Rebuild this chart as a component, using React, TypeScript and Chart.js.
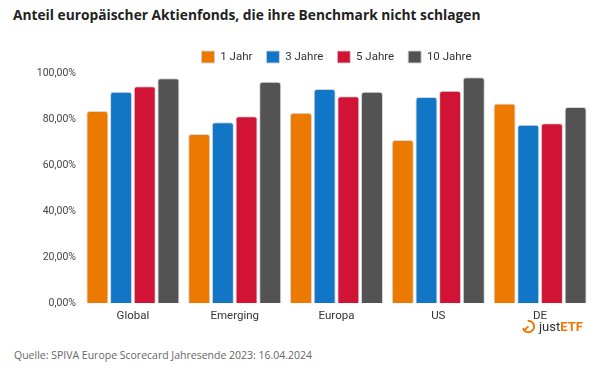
import React, { useEffect, useRef } from "react";
import { Chart, registerables } from "chart.js";

Chart.register(...registerables);

const categories = ["Global", "Emerging", "Europa", "US", "DE"];
const seriesNames = ["1 Jahr", "3 Jahre", "5 Jahre", "10 Jahre"];
const jahr1 = [83.5, 73.5, 82.7, 70.9, 86.7];
const jahre3 = [91.9, 78.6, 93.1, 89.6, 77.5];
const jahre5 = [94.2, 81.2, 89.9, 92.3, 78.2];
const jahre10 = [97.7, 96.2, 91.9, 98.1, 85.2];
const yTicks = [0, 20, 40, 60, 80, 100];
const colors = ["#EC7A00", "#1176C6", "#D11436", "#535353"];

const TICK_FONT = "Roboto, 'DejaVu Sans', sans-serif";

const legendToChartArea = {
  id: "legendToChartArea",
  afterLayout(chart: any) {
    const lg = chart.legend;
    if (lg && chart.chartArea) {
      lg.left = chart.chartArea.left;
      lg.right = chart.chartArea.right;
      lg.width = lg.right - lg.left;
    }
  },
};

export default function App() {
  const ref = useRef<HTMLCanvasElement>(null);
  useEffect(() => {
    if (!ref.current) return;
    const values = [jahr1, jahre3, jahre5, jahre10];
    const chart = new Chart(ref.current, {
      type: "bar",
      plugins: [legendToChartArea],
      data: {
        labels: categories,
        datasets: seriesNames.map((name, i) => ({
          label: name,
          data: values[i],
          backgroundColor: colors[i],
          borderColor: "rgba(210,210,210,0.9)",
          borderWidth: 1,
          borderRadius: 3,
          borderSkipped: "bottom",
          categoryPercentage: 0.93,
          barPercentage: 0.93,
        })),
      },
      options: {
        animation: false,
        responsive: false,
        maintainAspectRatio: false,
        layout: { padding: { left: 0, right: 14, top: 8, bottom: 0 } },
        plugins: {
          title: { display: false },
          tooltip: { enabled: false },
          legend: {
            display: true,
            position: "top",
            align: "center",
            labels: {
              boxWidth: 13,
              boxHeight: 12,
              padding: 14,
              color: "#333",
              font: { family: TICK_FONT, size: 11.5 },
            },
          },
        },
        scales: {
          x: {
            grid: { display: false, drawTicks: false },
            border: { display: false },
            ticks: {
              color: "#333",
              font: { family: TICK_FONT, size: 11.5 },
              padding: 6,
            },
          },
          y: {
            min: 0,
            max: 100,
            afterFit: (scale: any) => {
              scale.width = 82;
            },
            afterBuildTicks: (scale: any) => {
              scale.ticks = yTicks.map((v) => ({ value: v }));
            },
            grid: { display: false, drawTicks: false },
            border: { display: false },
            ticks: {
              color: "#444",
              font: { family: TICK_FONT, size: 10.5 },
              padding: 6,
              callback: (v: any) =>
                Number(v).toFixed(2).replace(".", ",") + "%",
            },
          },
        },
      },
    });
    return () => chart.destroy();
  }, []);

  return (
    <div
      style={{
        position: "fixed",
        left: 0,
        top: 0,
        width: 605,
        height: 370,
        background: "#fff",
        overflow: "hidden",
      }}
    >
      <div
        style={{
          position: "absolute",
          left: 13,
          top: 5,
          fontFamily: "'Open Sans', sans-serif",
          fontWeight: 700,
          fontSize: 13.75,
          color: "#222",
          whiteSpace: "nowrap",
        }}
      >
        Anteil europäischer Aktienfonds, die ihre Benchmark nicht schlagen
      </div>
      <canvas
        ref={ref}
        width={605}
        height={300}
        style={{ position: "absolute", left: 0, top: 29, width: 605, height: 300 }}
      />
      <div
        style={{
          position: "absolute",
          left: 521,
          top: 319,
          display: "flex",
          alignItems: "center",
          fontFamily: "Roboto, sans-serif",
          fontSize: 13,
          whiteSpace: "nowrap",
        }}
      >
        <svg width="15" height="15" viewBox="0 0 16 16" style={{ marginRight: 3 }}>
          <path
            d="M8 2 A6 6 0 1 1 2.5 10.5"
            fill="none"
            stroke="#EC7A00"
            strokeWidth="2.2"
            strokeLinecap="round"
          />
          <path d="M8 8 L3 13 L5.5 9.5 Z" fill="#EC7A00" stroke="#EC7A00" strokeWidth="1.5" />
        </svg>
        <span style={{ color: "#333" }}>just</span>
        <span style={{ color: "#EC7A00", fontWeight: 700 }}>ETF</span>
      </div>
      <div
        style={{
          position: "absolute",
          left: 14,
          top: 348,
          fontFamily: "'Open Sans', sans-serif",
          fontSize: 10.5,
          color: "#666",
          whiteSpace: "nowrap",
        }}
      >
        Quelle: SPIVA Europe Scorecard Jahresende 2023: 16.04.2024
      </div>
    </div>
  );
}
